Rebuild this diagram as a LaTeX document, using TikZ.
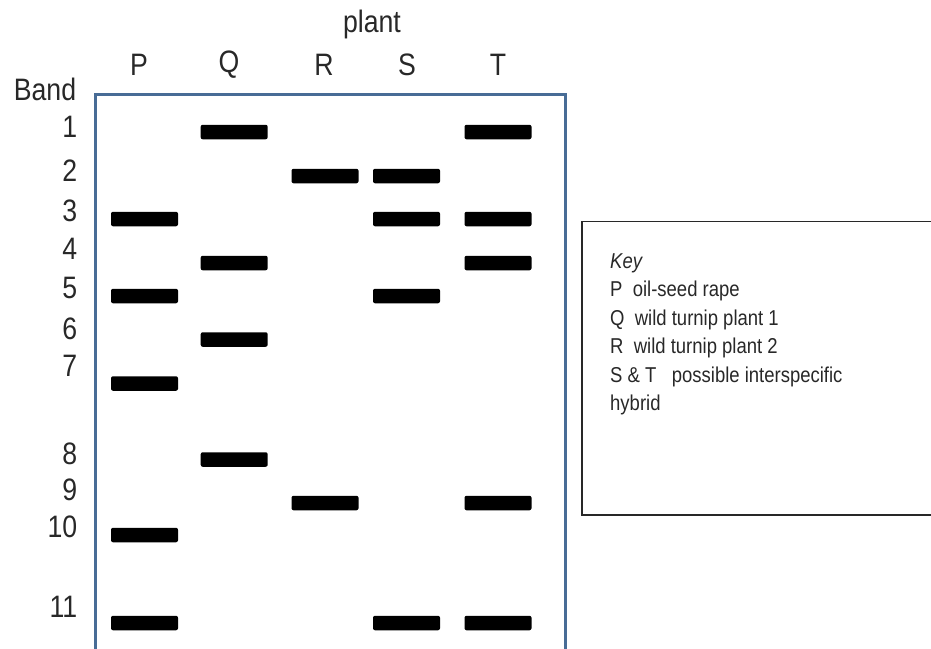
\documentclass[tikz,border=0pt]{standalone}
\usepackage{fontspec}
\setmainfont{Liberation Sans}[FakeStretch=0.86]
\definecolor{gelblue}{RGB}{72,108,150}
\definecolor{keygray}{RGB}{40,40,40}
\begin{document}
\begin{tikzpicture}[x=1pt,y=-1pt,
  band/.style={fill=black, rounded corners=2pt, minimum width=67pt, minimum height=14.5pt, inner sep=0pt},
  lbl/.style={inner sep=0pt, text=keygray, font=\fontsize{31}{34}\selectfont},
  num/.style={lbl, anchor=east},
  keytxt/.style={inner sep=0pt, anchor=base west, text=keygray, font=\fontsize{21.5}{24}\selectfont},
  gel/.style={draw=gelblue, line width=3pt},
  keybox/.style={draw=keygray, line width=1.2pt},
]
\useasboundingbox (0,0) rectangle (931,648);
% gel outline (open at the bottom)
\coordinate (gelBL) at (95,660);
\coordinate (gelTL) at (95,94);
\coordinate (gelTR) at (565.5,94);
\coordinate (gelBR) at (565.5,660);
\draw[gel] (gelBL) -- (gelTL) -- (gelTR) -- (gelBR);
% key box
\coordinate (keyTL) at (582,221.5);
\coordinate (keyBR) at (940,515);
\draw[keybox] (keyTL) rectangle (keyBR);
% headings
\node[lbl] (plant) at (372,24) {plant};
\node[lbl] (hP) at (139,65) {P};
\node[lbl] (hQ) at (229,65) {Q};
\node[lbl] (hR) at (324,65) {R};
\node[lbl] (hS) at (407,65) {S};
\node[lbl] (hT) at (498,65) {T};
\node[lbl] (band) at (45,89) {Band};
% band numbers
\foreach \n/\y in {1/127,2/171,3/211,4/249,5/288,6/329,7/366,8/454,9/490,10/527,11/607}
  \node[num] (n\n) at (77.5,\y) {\n};
% bands
\foreach \lane/\x/\list in {P/144.5/{3,5,7,10,11}, Q/234.2/{1,4,6,8}, R/325/{2,9}, S/406.5/{2,3,5,11}, T/498/{1,3,4,9,11}}{
  \foreach \b in \list {
    \pgfmathsetmacro{\yy}{{0,132,176,219,263,296,339.5,383.5,459.5,503,535,623}[\b]}
    \node[band] (\lane\b) at (\x,\yy) {};
  }
}
% key text
\node[keytxt] (k0) at (610,268) {\textit{Key}};
\node[keytxt] (k1) at (610,296.5) {P\ \ oil-seed rape};
\node[keytxt] (k2) at (610,325) {Q\ \ wild turnip plant 1};
\node[keytxt] (k3) at (610,353.5) {R\ \ wild turnip plant 2};
\node[keytxt] (k4) at (610,382) {S \& T\ \ \ possible interspecific};
\node[keytxt] (k5) at (610,410) {hybrid};
\end{tikzpicture}
\end{document}
